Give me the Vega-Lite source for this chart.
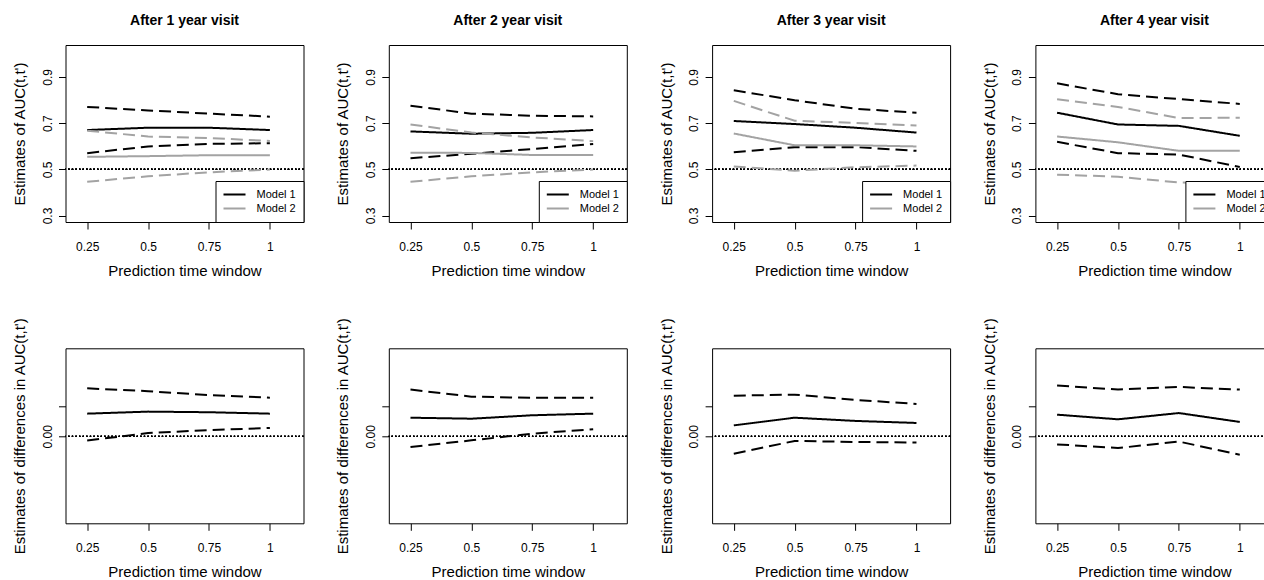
{
  "$schema": "https://vega.github.io/schema/vega-lite/v6.json",
  "padding": {"left": 11.5, "top": 13, "right": 0, "bottom": 0},
  "background": "white",
  "datasets": {
    "auc": [
      {"visit": 1, "t": 0.25, "model": "Model 1", "est": 0.670, "lower": 0.570, "upper": 0.770},
      {"visit": 1, "t": 0.5, "model": "Model 1", "est": 0.680, "lower": 0.599, "upper": 0.755},
      {"visit": 1, "t": 0.75, "model": "Model 1", "est": 0.680, "lower": 0.610, "upper": 0.741},
      {"visit": 1, "t": 1, "model": "Model 1", "est": 0.670, "lower": 0.613, "upper": 0.728},
      {"visit": 1, "t": 0.25, "model": "Model 2", "est": 0.554, "lower": 0.446, "upper": 0.667},
      {"visit": 1, "t": 0.5, "model": "Model 2", "est": 0.557, "lower": 0.470, "upper": 0.642},
      {"visit": 1, "t": 0.75, "model": "Model 2", "est": 0.561, "lower": 0.487, "upper": 0.635},
      {"visit": 1, "t": 1, "model": "Model 2", "est": 0.561, "lower": 0.499, "upper": 0.623},
      {"visit": 2, "t": 0.25, "model": "Model 1", "est": 0.664, "lower": 0.548, "upper": 0.775},
      {"visit": 2, "t": 0.5, "model": "Model 1", "est": 0.654, "lower": 0.567, "upper": 0.741},
      {"visit": 2, "t": 0.75, "model": "Model 1", "est": 0.658, "lower": 0.588, "upper": 0.732},
      {"visit": 2, "t": 1, "model": "Model 1", "est": 0.670, "lower": 0.610, "upper": 0.729},
      {"visit": 2, "t": 0.25, "model": "Model 2", "est": 0.572, "lower": 0.446, "upper": 0.694},
      {"visit": 2, "t": 0.5, "model": "Model 2", "est": 0.571, "lower": 0.470, "upper": 0.659},
      {"visit": 2, "t": 0.75, "model": "Model 2", "est": 0.562, "lower": 0.487, "upper": 0.638},
      {"visit": 2, "t": 1, "model": "Model 2", "est": 0.562, "lower": 0.499, "upper": 0.622},
      {"visit": 3, "t": 0.25, "model": "Model 1", "est": 0.709, "lower": 0.574, "upper": 0.842},
      {"visit": 3, "t": 0.5, "model": "Model 1", "est": 0.696, "lower": 0.596, "upper": 0.799},
      {"visit": 3, "t": 0.75, "model": "Model 1", "est": 0.680, "lower": 0.596, "upper": 0.762},
      {"visit": 3, "t": 1, "model": "Model 1", "est": 0.659, "lower": 0.580, "upper": 0.745},
      {"visit": 3, "t": 0.25, "model": "Model 2", "est": 0.655, "lower": 0.512, "upper": 0.796},
      {"visit": 3, "t": 0.5, "model": "Model 2", "est": 0.604, "lower": 0.494, "upper": 0.710},
      {"visit": 3, "t": 0.75, "model": "Model 2", "est": 0.604, "lower": 0.509, "upper": 0.701},
      {"visit": 3, "t": 1, "model": "Model 2", "est": 0.599, "lower": 0.516, "upper": 0.690},
      {"visit": 4, "t": 0.25, "model": "Model 1", "est": 0.745, "lower": 0.619, "upper": 0.872},
      {"visit": 4, "t": 0.5, "model": "Model 1", "est": 0.694, "lower": 0.570, "upper": 0.825},
      {"visit": 4, "t": 0.75, "model": "Model 1", "est": 0.688, "lower": 0.564, "upper": 0.804},
      {"visit": 4, "t": 1, "model": "Model 1", "est": 0.645, "lower": 0.510, "upper": 0.783},
      {"visit": 4, "t": 0.25, "model": "Model 2", "est": 0.642, "lower": 0.477, "upper": 0.803},
      {"visit": 4, "t": 0.5, "model": "Model 2", "est": 0.617, "lower": 0.468, "upper": 0.770},
      {"visit": 4, "t": 0.75, "model": "Model 2", "est": 0.580, "lower": 0.443, "upper": 0.722},
      {"visit": 4, "t": 1, "model": "Model 2", "est": 0.580, "lower": 0.440, "upper": 0.723}
    ],
    "diff": [
      {"visit": 1, "t": 0.25, "est": 0.112, "lower": -0.021, "upper": 0.237},
      {"visit": 1, "t": 0.5, "est": 0.122, "lower": 0.016, "upper": 0.223},
      {"visit": 1, "t": 0.75, "est": 0.119, "lower": 0.031, "upper": 0.204},
      {"visit": 1, "t": 1, "est": 0.112, "lower": 0.041, "upper": 0.191},
      {"visit": 2, "t": 0.25, "est": 0.092, "lower": -0.053, "upper": 0.231},
      {"visit": 2, "t": 0.5, "est": 0.087, "lower": -0.020, "upper": 0.196},
      {"visit": 2, "t": 0.75, "est": 0.104, "lower": 0.013, "upper": 0.190},
      {"visit": 2, "t": 1, "est": 0.112, "lower": 0.035, "upper": 0.190},
      {"visit": 3, "t": 0.25, "est": 0.054, "lower": -0.086, "upper": 0.201},
      {"visit": 3, "t": 0.5, "est": 0.092, "lower": -0.023, "upper": 0.206},
      {"visit": 3, "t": 0.75, "est": 0.076, "lower": -0.028, "upper": 0.180},
      {"visit": 3, "t": 1, "est": 0.066, "lower": -0.031, "upper": 0.160},
      {"visit": 4, "t": 0.25, "est": 0.107, "lower": -0.040, "upper": 0.251},
      {"visit": 4, "t": 0.5, "est": 0.084, "lower": -0.058, "upper": 0.231},
      {"visit": 4, "t": 0.75, "est": 0.115, "lower": -0.026, "upper": 0.244},
      {"visit": 4, "t": 1, "est": 0.071, "lower": -0.091, "upper": 0.231}
    ]
  },
  "columns": 4,
  "spacing": {"row": 126.3, "column": 85.3},
  "bounds": "flush",
  "concat": [
    {
      "title": "After 1 year visit",
      "width": 238, "height": 177,
      "data": {"name": "auc"},
      "transform": [{"filter": "datum.visit == 1"}, {"fold": ["est", "lower", "upper"], "as": ["bound", "value"]}],
      "layer": [
        {"mark": {"type": "rule", "color": "black", "strokeWidth": 0.9, "strokeDash": [1.2, 2.4]}, "encoding": {"y": {"datum": 0.5}}},
        {"mark": {"type": "line", "strokeWidth": 2},
         "encoding": {
           "x": {"field": "t", "type": "quantitative", "scale": {"domain": [0.161, 1.138], "nice": false, "zero": false},
                 "axis": {"values": [0.25, 0.5, 0.75, 1], "labelExpr": "toString(datum.value)", "title": "Prediction time window", "titleX": 119, "titleY": 48, "titleBaseline": "middle", "titleAlign": "center", "labelBaseline": "middle", "labelPadding": 17, "labelFlush": false, "labelOverlap": false}},
           "y": {"field": "value", "type": "quantitative", "scale": {"domain": [0.272, 1.038], "nice": false, "zero": false},
                 "axis": {"values": [0.3, 0.4, 0.5, 0.6, 0.7, 0.8, 0.9, 1.0], "labelExpr": "round(datum.value*10) % 2 == 1 ? format(datum.value, '.1f') : ''", "labelAngle": 270, "labelAlign": "center", "labelBaseline": "middle", "labelPadding": 11.5, "labelOverlap": false, "labelFlush": false, "title": "Estimates of AUC(t,t')", "titleAngle": 270, "titleX": -46, "titleY": 88.5, "titleAlign": "center", "titleBaseline": "middle"}},
           "color": {"field": "model", "type": "nominal", "scale": {"domain": ["Model 1", "Model 2"], "range": ["black", "#a3a3a3"]}, "legend": {"title": null}},
           "strokeDash": {"field": "bound", "type": "nominal", "scale": {"domain": ["est", "lower", "upper"], "range": [[1, 0], [12, 6], [12, 6]]}, "legend": null}
         }}
      ]
    },
    {
      "title": "After 2 year visit",
      "width": 238, "height": 177,
      "data": {"name": "auc"},
      "transform": [{"filter": "datum.visit == 2"}, {"fold": ["est", "lower", "upper"], "as": ["bound", "value"]}],
      "layer": [
        {"mark": {"type": "rule", "color": "black", "strokeWidth": 0.9, "strokeDash": [1.2, 2.4]}, "encoding": {"y": {"datum": 0.5}}},
        {"mark": {"type": "line", "strokeWidth": 2},
         "encoding": {
           "x": {"field": "t", "type": "quantitative", "scale": {"domain": [0.161, 1.138], "nice": false, "zero": false},
                 "axis": {"values": [0.25, 0.5, 0.75, 1], "labelExpr": "toString(datum.value)", "title": "Prediction time window", "titleX": 119, "titleY": 48, "titleBaseline": "middle", "titleAlign": "center", "labelBaseline": "middle", "labelPadding": 17, "labelFlush": false, "labelOverlap": false}},
           "y": {"field": "value", "type": "quantitative", "scale": {"domain": [0.272, 1.038], "nice": false, "zero": false},
                 "axis": {"values": [0.3, 0.4, 0.5, 0.6, 0.7, 0.8, 0.9, 1.0], "labelExpr": "round(datum.value*10) % 2 == 1 ? format(datum.value, '.1f') : ''", "labelAngle": 270, "labelAlign": "center", "labelBaseline": "middle", "labelPadding": 11.5, "labelOverlap": false, "labelFlush": false, "title": "Estimates of AUC(t,t')", "titleAngle": 270, "titleX": -46, "titleY": 88.5, "titleAlign": "center", "titleBaseline": "middle"}},
           "color": {"field": "model", "type": "nominal", "scale": {"domain": ["Model 1", "Model 2"], "range": ["black", "#a3a3a3"]}, "legend": {"title": null}},
           "strokeDash": {"field": "bound", "type": "nominal", "scale": {"domain": ["est", "lower", "upper"], "range": [[1, 0], [12, 6], [12, 6]]}, "legend": null}
         }}
      ]
    },
    {
      "title": "After 3 year visit",
      "width": 238, "height": 177,
      "data": {"name": "auc"},
      "transform": [{"filter": "datum.visit == 3"}, {"fold": ["est", "lower", "upper"], "as": ["bound", "value"]}],
      "layer": [
        {"mark": {"type": "rule", "color": "black", "strokeWidth": 0.9, "strokeDash": [1.2, 2.4]}, "encoding": {"y": {"datum": 0.5}}},
        {"mark": {"type": "line", "strokeWidth": 2},
         "encoding": {
           "x": {"field": "t", "type": "quantitative", "scale": {"domain": [0.161, 1.138], "nice": false, "zero": false},
                 "axis": {"values": [0.25, 0.5, 0.75, 1], "labelExpr": "toString(datum.value)", "title": "Prediction time window", "titleX": 119, "titleY": 48, "titleBaseline": "middle", "titleAlign": "center", "labelBaseline": "middle", "labelPadding": 17, "labelFlush": false, "labelOverlap": false}},
           "y": {"field": "value", "type": "quantitative", "scale": {"domain": [0.272, 1.038], "nice": false, "zero": false},
                 "axis": {"values": [0.3, 0.4, 0.5, 0.6, 0.7, 0.8, 0.9, 1.0], "labelExpr": "round(datum.value*10) % 2 == 1 ? format(datum.value, '.1f') : ''", "labelAngle": 270, "labelAlign": "center", "labelBaseline": "middle", "labelPadding": 11.5, "labelOverlap": false, "labelFlush": false, "title": "Estimates of AUC(t,t')", "titleAngle": 270, "titleX": -46, "titleY": 88.5, "titleAlign": "center", "titleBaseline": "middle"}},
           "color": {"field": "model", "type": "nominal", "scale": {"domain": ["Model 1", "Model 2"], "range": ["black", "#a3a3a3"]}, "legend": {"title": null}},
           "strokeDash": {"field": "bound", "type": "nominal", "scale": {"domain": ["est", "lower", "upper"], "range": [[1, 0], [12, 6], [12, 6]]}, "legend": null}
         }}
      ]
    },
    {
      "title": "After 4 year visit",
      "width": 238, "height": 177,
      "data": {"name": "auc"},
      "transform": [{"filter": "datum.visit == 4"}, {"fold": ["est", "lower", "upper"], "as": ["bound", "value"]}],
      "layer": [
        {"mark": {"type": "rule", "color": "black", "strokeWidth": 0.9, "strokeDash": [1.2, 2.4]}, "encoding": {"y": {"datum": 0.5}}},
        {"mark": {"type": "line", "strokeWidth": 2},
         "encoding": {
           "x": {"field": "t", "type": "quantitative", "scale": {"domain": [0.161, 1.138], "nice": false, "zero": false},
                 "axis": {"values": [0.25, 0.5, 0.75, 1], "labelExpr": "toString(datum.value)", "title": "Prediction time window", "titleX": 119, "titleY": 48, "titleBaseline": "middle", "titleAlign": "center", "labelBaseline": "middle", "labelPadding": 17, "labelFlush": false, "labelOverlap": false}},
           "y": {"field": "value", "type": "quantitative", "scale": {"domain": [0.272, 1.038], "nice": false, "zero": false},
                 "axis": {"values": [0.3, 0.4, 0.5, 0.6, 0.7, 0.8, 0.9, 1.0], "labelExpr": "round(datum.value*10) % 2 == 1 ? format(datum.value, '.1f') : ''", "labelAngle": 270, "labelAlign": "center", "labelBaseline": "middle", "labelPadding": 11.5, "labelOverlap": false, "labelFlush": false, "title": "Estimates of AUC(t,t')", "titleAngle": 270, "titleX": -46, "titleY": 88.5, "titleAlign": "center", "titleBaseline": "middle"}},
           "color": {"field": "model", "type": "nominal", "scale": {"domain": ["Model 1", "Model 2"], "range": ["black", "#a3a3a3"]}, "legend": {"title": null}},
           "strokeDash": {"field": "bound", "type": "nominal", "scale": {"domain": ["est", "lower", "upper"], "range": [[1, 0], [12, 6], [12, 6]]}, "legend": null}
         }}
      ]
    },
    {
      "width": 238, "height": 175,
      "data": {"name": "diff"},
      "transform": [{"filter": "datum.visit == 1"}, {"fold": ["est", "lower", "upper"], "as": ["bound", "value"]}],
      "layer": [
        {"mark": {"type": "rule", "color": "black", "strokeWidth": 0.9, "strokeDash": [1.2, 2.4]}, "encoding": {"y": {"datum": 0}}},
        {"mark": {"type": "line", "strokeWidth": 2, "color": "black"},
         "encoding": {
           "x": {"field": "t", "type": "quantitative", "scale": {"domain": [0.161, 1.138], "nice": false, "zero": false},
                 "axis": {"values": [0.25, 0.5, 0.75, 1], "labelExpr": "toString(datum.value)", "title": "Prediction time window", "titleX": 119, "titleY": 48, "titleBaseline": "middle", "titleAlign": "center", "labelBaseline": "middle", "labelPadding": 17, "labelFlush": false, "labelOverlap": false}},
           "y": {"field": "value", "type": "quantitative", "scale": {"domain": [-0.43, 0.435], "nice": false, "zero": false},
                 "axis": {"values": [0, 0.15], "labelExpr": "datum.value == 0 ? '0.00' : ''", "labelAngle": 270, "labelAlign": "center", "labelBaseline": "middle", "labelPadding": 11.5, "labelOverlap": false, "labelFlush": false, "title": "Estimates of differences in AUC(t,t')", "titleAngle": 270, "titleX": -46, "titleY": 87.5, "titleAlign": "center", "titleBaseline": "middle"}},
           "strokeDash": {"field": "bound", "type": "nominal", "scale": {"domain": ["est", "lower", "upper"], "range": [[1, 0], [12, 6], [12, 6]]}, "legend": null}
         }}
      ]
    },
    {
      "width": 238, "height": 175,
      "data": {"name": "diff"},
      "transform": [{"filter": "datum.visit == 2"}, {"fold": ["est", "lower", "upper"], "as": ["bound", "value"]}],
      "layer": [
        {"mark": {"type": "rule", "color": "black", "strokeWidth": 0.9, "strokeDash": [1.2, 2.4]}, "encoding": {"y": {"datum": 0}}},
        {"mark": {"type": "line", "strokeWidth": 2, "color": "black"},
         "encoding": {
           "x": {"field": "t", "type": "quantitative", "scale": {"domain": [0.161, 1.138], "nice": false, "zero": false},
                 "axis": {"values": [0.25, 0.5, 0.75, 1], "labelExpr": "toString(datum.value)", "title": "Prediction time window", "titleX": 119, "titleY": 48, "titleBaseline": "middle", "titleAlign": "center", "labelBaseline": "middle", "labelPadding": 17, "labelFlush": false, "labelOverlap": false}},
           "y": {"field": "value", "type": "quantitative", "scale": {"domain": [-0.43, 0.435], "nice": false, "zero": false},
                 "axis": {"values": [0, 0.15], "labelExpr": "datum.value == 0 ? '0.00' : ''", "labelAngle": 270, "labelAlign": "center", "labelBaseline": "middle", "labelPadding": 11.5, "labelOverlap": false, "labelFlush": false, "title": "Estimates of differences in AUC(t,t')", "titleAngle": 270, "titleX": -46, "titleY": 87.5, "titleAlign": "center", "titleBaseline": "middle"}},
           "strokeDash": {"field": "bound", "type": "nominal", "scale": {"domain": ["est", "lower", "upper"], "range": [[1, 0], [12, 6], [12, 6]]}, "legend": null}
         }}
      ]
    },
    {
      "width": 238, "height": 175,
      "data": {"name": "diff"},
      "transform": [{"filter": "datum.visit == 3"}, {"fold": ["est", "lower", "upper"], "as": ["bound", "value"]}],
      "layer": [
        {"mark": {"type": "rule", "color": "black", "strokeWidth": 0.9, "strokeDash": [1.2, 2.4]}, "encoding": {"y": {"datum": 0}}},
        {"mark": {"type": "line", "strokeWidth": 2, "color": "black"},
         "encoding": {
           "x": {"field": "t", "type": "quantitative", "scale": {"domain": [0.161, 1.138], "nice": false, "zero": false},
                 "axis": {"values": [0.25, 0.5, 0.75, 1], "labelExpr": "toString(datum.value)", "title": "Prediction time window", "titleX": 119, "titleY": 48, "titleBaseline": "middle", "titleAlign": "center", "labelBaseline": "middle", "labelPadding": 17, "labelFlush": false, "labelOverlap": false}},
           "y": {"field": "value", "type": "quantitative", "scale": {"domain": [-0.43, 0.435], "nice": false, "zero": false},
                 "axis": {"values": [0, 0.15], "labelExpr": "datum.value == 0 ? '0.00' : ''", "labelAngle": 270, "labelAlign": "center", "labelBaseline": "middle", "labelPadding": 11.5, "labelOverlap": false, "labelFlush": false, "title": "Estimates of differences in AUC(t,t')", "titleAngle": 270, "titleX": -46, "titleY": 87.5, "titleAlign": "center", "titleBaseline": "middle"}},
           "strokeDash": {"field": "bound", "type": "nominal", "scale": {"domain": ["est", "lower", "upper"], "range": [[1, 0], [12, 6], [12, 6]]}, "legend": null}
         }}
      ]
    },
    {
      "width": 238, "height": 175,
      "data": {"name": "diff"},
      "transform": [{"filter": "datum.visit == 4"}, {"fold": ["est", "lower", "upper"], "as": ["bound", "value"]}],
      "layer": [
        {"mark": {"type": "rule", "color": "black", "strokeWidth": 0.9, "strokeDash": [1.2, 2.4]}, "encoding": {"y": {"datum": 0}}},
        {"mark": {"type": "line", "strokeWidth": 2, "color": "black"},
         "encoding": {
           "x": {"field": "t", "type": "quantitative", "scale": {"domain": [0.161, 1.138], "nice": false, "zero": false},
                 "axis": {"values": [0.25, 0.5, 0.75, 1], "labelExpr": "toString(datum.value)", "title": "Prediction time window", "titleX": 119, "titleY": 48, "titleBaseline": "middle", "titleAlign": "center", "labelBaseline": "middle", "labelPadding": 17, "labelFlush": false, "labelOverlap": false}},
           "y": {"field": "value", "type": "quantitative", "scale": {"domain": [-0.43, 0.435], "nice": false, "zero": false},
                 "axis": {"values": [0, 0.15], "labelExpr": "datum.value == 0 ? '0.00' : ''", "labelAngle": 270, "labelAlign": "center", "labelBaseline": "middle", "labelPadding": 11.5, "labelOverlap": false, "labelFlush": false, "title": "Estimates of differences in AUC(t,t')", "titleAngle": 270, "titleX": -46, "titleY": 87.5, "titleAlign": "center", "titleBaseline": "middle"}},
           "strokeDash": {"field": "bound", "type": "nominal", "scale": {"domain": ["est", "lower", "upper"], "range": [[1, 0], [12, 6], [12, 6]]}, "legend": null}
         }}
      ]
    }
  ],
  "resolve": {
    "scale": {"color": "independent", "x": "independent", "y": "independent", "strokeDash": "independent"},
    "legend": {"color": "independent"}
  },
  "config": {
    "font": "Liberation Sans",
    "view": {"stroke": "black", "strokeWidth": 1},
    "axis": {"grid": false, "domain": false, "ticks": true, "tickColor": "black", "tickWidth": 1, "tickSize": 7,
             "labelColor": "black", "labelFontSize": 12, "labelFont": "Liberation Sans",
             "titleColor": "black", "titleFontSize": 15, "titleFontWeight": "normal", "titleFont": "Liberation Sans"},
    "title": {"fontSize": 14, "fontWeight": "bold", "color": "black", "font": "Liberation Sans", "offset": 17, "baseline": "middle", "anchor": "middle"},
    "legend": {"orient": "bottom-right", "offset": 0, "padding": 7, "strokeColor": "black", "fillColor": "white",
               "symbolType": "stroke", "symbolSize": 484, "symbolStrokeWidth": 2, "labelFontSize": 11,
               "labelFont": "Liberation Sans", "labelColor": "black", "clipHeight": 13, "rowPadding": 1,
               "labelOffset": 10, "cornerRadius": 0}
  }
}
